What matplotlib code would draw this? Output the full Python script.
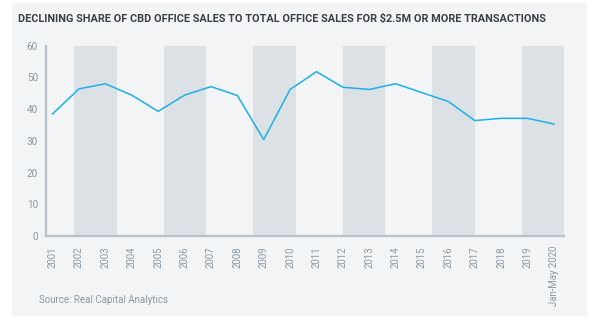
import matplotlib
matplotlib.use("Agg")
import matplotlib.pyplot as plt
from matplotlib.patches import Rectangle

# ---- data ----
categories = ["2001", "2002", "2003", "2004", "2005", "2006", "2007", "2008", "2009", "2010",
              "2011", "2012", "2013", "2014", "2015", "2016", "2017", "2018", "2019", "Jan-May 2020"]
share = [38.5, 46.4, 48.0, 44.4, 39.3, 44.4, 47.1, 44.3, 30.4, 46.2,
         51.8, 46.9, 46.2, 48.0, 45.2, 42.4, 36.4, 37.1, 37.1, 35.3]
y_ticks = [0, 10, 20, 30, 40, 50, 60]
title = "DECLINING SHARE OF CBD OFFICE SALES TO TOTAL OFFICE SALES FOR \\$2.5M OR MORE TRANSACTIONS"
source = "Source: Real Capital Analytics"

# decorative background bands (x-axis units)
band_first, band_period, band_width, band_count = 0.83, 3.39, 1.60, 6

W, H = 600, 321
fig = plt.figure(figsize=(W / 100, H / 100), dpi=100)
fig.patch.set_facecolor("white")
plt.rcParams["font.family"] = ["Roboto", "DejaVu Sans"]

panel_col = "#f2f4f6"
fig.add_artist(Rectangle((12 / W, 1 - 316 / H), (587 - 12) / W, (316 - 3) / H,
                         transform=fig.transFigure, facecolor=panel_col, edgecolor="none", zorder=0))

ax = fig.add_axes([46 / W, 1 - 236 / H, (564 - 46) / W, (236 - 45.7) / H])
ax.set_facecolor("none")

x = list(range(len(categories)))
for k in range(band_count):
    s = band_first + k * band_period
    ax.axvspan(s, s + band_width, color="#dce1e5", lw=0, zorder=1)

ax.plot(x, share, color="#1eb0e6", lw=1.1, zorder=3, solid_joinstyle="miter")

ax.set_xlim(-0.25, 19.38)
ax.set_ylim(0, 60)
ax.set_yticks(y_ticks)
ax.set_xticks(x)
ax.set_xticklabels(categories, rotation=90, va="top", ha="center")
tick_col = "#8a99a4"
ax.tick_params(axis="y", length=0, pad=5.8, labelsize=7.2, labelcolor=tick_col)
ax.tick_params(axis="x", length=0, pad=7.2, labelsize=6.9, labelcolor=tick_col)

for s in ["top", "right"]:
    ax.spines[s].set_visible(False)
for s in ["left", "bottom"]:
    ax.spines[s].set_color("#b8c2c8")
    ax.spines[s].set_linewidth(1.6)
    ax.spines[s].set_zorder(4)

renderer = fig.canvas.get_renderer()

def fit_text(xp, yp, txt, target_w, **kw):
    t = fig.text(xp / W, 1 - yp / H, txt, fontsize=10, va="center", ha="left", **kw)
    w = t.get_window_extent(renderer).width
    t.set_fontsize(10 * target_w / w)
    return t

fit_text(18, 19, title, 527, color="#3a3f45", fontweight="bold")
fit_text(39, 300, source, 129, color="#8a99a4")

fig.savefig("out.png", dpi=100, facecolor="white")
